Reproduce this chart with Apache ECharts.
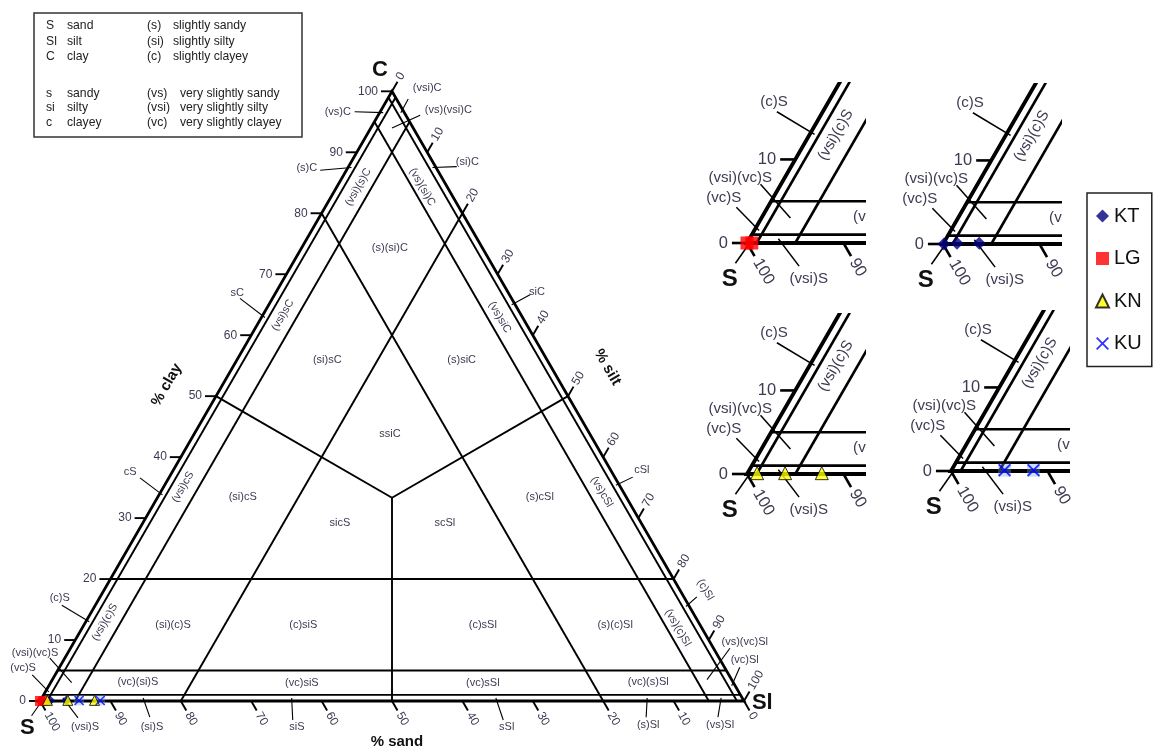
<!DOCTYPE html>
<html>
<head>
<meta charset="utf-8">
<title>Sand–silt–clay ternary classification</title>
<script src="https://cdn.jsdelivr.net/npm/echarts@6/dist/echarts.min.js"></script>
<style>
  html, body { margin: 0; padding: 0; background: #fff; }
  #chart { width: 1153px; height: 749px; }
</style>
</head>
<body>
<div id="chart"></div>
<script>
// ---------------- sample compositions (% sand, % silt, % clay) ----------------
const KT_sand = [99.9, 98.5, 96.2];
const KT_silt = [0.1, 1.4, 3.7];
const KT_clay = [0.0, 0.1, 0.1];

const LG_sand = [100.0, 99.5];
const LG_silt = [0.0, 0.5];
const LG_clay = [0.0, 0.0];

const KN_sand = [98.9, 96.0, 92.2];
const KN_silt = [1.0, 3.9, 7.7];
const KN_clay = [0.1, 0.1, 0.1];

const KU_sand = [94.4, 91.4];
const KU_silt = [5.5, 8.5];
const KU_clay = [0.1, 0.1];

const SAMPLE_NAMES = ['KT', 'LG', 'KN', 'KU'];

// axis tick values (%)
const TICK_VALUES = [0, 10, 20, 30, 40, 50, 60, 70, 80, 90, 100];

// class limits (%)
const LIMIT_TRACE = 1;
const LIMIT_VERY_SLIGHT = 5;
const LIMIT_SLIGHT = 20;
const LIMIT_MAJOR = 50;

// class names written inside their fields
const INNER_NAMES = [
  '(vsi)(s)C', '(vs)(si)C', '(s)(si)C', '(vsi)sC', '(si)sC', '(vs)siC', '(s)siC', 'ssiC',
  '(vsi)cS', '(si)cS', 'sicS', 'scSl', '(s)cSl', '(vs)cSl',
  '(vsi)(c)S', '(si)(c)S', '(c)siS', '(c)sSl', '(s)(c)Sl', '(vs)(c)Sl',
  '(vc)(si)S', '(vc)siS', '(vc)sSl', '(vc)(s)Sl'
];
// class names for the narrow bands, each with a pointer into its band
const OUTER_NAMES = [
  '(vsi)C', '(vs)(vsi)C', '(vs)C', '(s)C', '(si)C', 'sC', 'siC', 'cS', 'cSl',
  '(c)S', '(vsi)(vc)S', '(vc)S', '(vsi)S', '(si)S', 'siS', 'sSl', '(s)Sl', '(vs)Sl',
  '(c)Sl', '(vs)(vc)Sl', '(vc)Sl'
];
// composition each pointer ends in (sand, silt, clay)
const OUTER_TARGETS = [
  [0.5, 3, 96.5], [3, 3, 94], [3, 0.5, 96.5], [12, 0.5, 87.5], [0.5, 12, 87.5],
  [36.6, 0.5, 62.9], [0.5, 34.5, 65], [65.7, 0.5, 33.8], [0.5, 64.1, 35.4],
  [86.5, 0.5, 13], [94, 3, 3], [98, 0.5, 1.5], [96.5, 3, 0.5], [85.1, 14.4, 0.5],
  [64, 35.5, 0.5], [35, 64.5, 0.5], [13.5, 86, 0.5], [3, 96.5, 0.5],
  [0.5, 84, 15.5], [3.5, 93, 3.5], [0.5, 97, 2.5]
];

const KEY_LEFT = [['S', 'sand'], ['Sl', 'silt'], ['C', 'clay'], ['s', 'sandy'], ['si', 'silty'], ['c', 'clayey']];
const KEY_RIGHT = [['(s)', 'slightly sandy'], ['(si)', 'slightly silty'], ['(c)', 'slightly clayey'],
                   ['(vs)', 'very slightly sandy'], ['(vsi)', 'very slightly silty'], ['(vc)', 'very slightly clayey']];

// ---------------- layout (plot units: x = silt + clay/2, y = clay·√3/2) ----------------
// [x, y, rotation°]
const INNER_LAYOUT = [
  [45.2, 73.0, 60], [54.3, 73.0, -60], [49.7, 64.3, 0], [34.5, 54.8, 60], [40.8, 48.4, 0],
  [65.3, 54.5, -60], [59.9, 48.4, 0], [49.7, 37.9, 0],
  [20.3, 30.4, 60], [28.8, 29.0, 0], [42.6, 25.3, 0], [57.5, 25.3, 0], [71.0, 29.0, 0], [79.8, 29.7, -60],
  [9.2, 11.2, 60], [18.9, 10.8, 0], [37.4, 10.8, 0], [62.9, 10.8, 0], [81.7, 10.8, 0], [90.6, 10.4, -60],
  [13.9, 2.7, 0], [37.2, 2.6, 0], [62.9, 2.6, 0], [86.4, 2.7, 0]
];
// [text x, text y, pointer start x, pointer start y, rotation°]
const OUTER_LAYOUT = [
  [55.0, 87.1, 52.3, 85.5, 0], [58.0, 83.9, 54.0, 83.2, 0], [42.3, 83.7, 44.7, 83.7, 0],
  [37.9, 75.7, 39.8, 75.4, 0], [60.7, 76.6, 59.2, 75.9, 0], [28.0, 58.0, 28.4, 57.2, 0],
  [70.6, 58.1, 69.6, 57.7, 0], [12.8, 32.5, 14.2, 31.7, 0], [85.5, 32.8, 84.2, 31.8, 0],
  [2.8, 14.6, 3.1, 13.6, 0], [-0.7, 6.8, 1.4, 6.1, 0], [-2.4, 4.7, -1.1, 3.7, 0],
  [6.4, -3.7, 5.4, -2.4, 0], [15.9, -3.7, 15.6, -2.3, 0], [36.5, -3.7, 35.9, -2.7, 0],
  [66.3, -3.7, 65.8, -2.7, 0], [86.4, -3.4, 86.1, -2.3, 0], [96.6, -3.4, 96.3, -2.3, 0],
  [94.5, 15.8, 93.3, 14.8, -60], [100.1, 8.4, 98.0, 7.5, 0], [100.1, 5.8, 99.4, 4.8, 0]
];

const FONT = '"Liberation Sans", Arial, sans-serif';
const LINE_INK = '#000';
const TEXT_INK = '#3b3b52';
const SQ3 = Math.sqrt(3) / 2;

function toXY(sand, silt, clay) {
  const t = sand + silt + clay;
  return [(silt + clay / 2) * 100 / t, clay * SQ3 * 100 / t];
}

// class boundaries as segments between compositions
const C3 = 100 / 3;
const EDGE = [[100, 0, 0], [0, 100, 0], [0, 0, 100]];
const SEGMENTS = [];
[LIMIT_TRACE, LIMIT_VERY_SLIGHT, LIMIT_SLIGHT].forEach(v => {
  SEGMENTS.push([[100 - v, 0, v], [0, 100 - v, v]]);   // constant clay
  SEGMENTS.push([[100 - v, v, 0], [0, v, 100 - v]]);   // constant silt
  SEGMENTS.push([[v, 100 - v, 0], [v, 0, 100 - v]]);   // constant sand
});
SEGMENTS.push([[LIMIT_MAJOR, 0, LIMIT_MAJOR], [C3, C3, C3]]);
SEGMENTS.push([[0, LIMIT_MAJOR, LIMIT_MAJOR], [C3, C3, C3]]);
SEGMENTS.push([[LIMIT_MAJOR, LIMIT_MAJOR, 0], [C3, C3, C3]]);

// ---------------- panels ----------------
const MAIN_K = 7.04;
const MAIN_V = [40, 701];
const INSET_K = 9.65;
const INSET_W = 118, INSET_H = 161, INSET_PAD = 2;
const INSETS = [
  { v: [747, 243], sample: 'LG' },
  { v: [943, 244], sample: 'KT' },
  { v: [747, 474], sample: 'KN' },
  { v: [951, 471], sample: 'KU' }
];

const panels = [{
  grid: { left: MAIN_V[0], top: MAIN_V[1] - 100 * SQ3 * MAIN_K, width: 100 * MAIN_K, height: 100 * SQ3 * MAIN_K },
  x: [0, 100], y: [0, 100 * SQ3], f: 1, clip: false, vertexSize: 22,
  clayTicks: TICK_VALUES, siltTicks: TICK_VALUES, sandTicks: TICK_VALUES,
  outer: OUTER_NAMES, vertices: true, titles: true, samples: SAMPLE_NAMES, size: 10
}];
INSETS.forEach(ins => {
  panels.push({
    grid: { left: ins.v[0] - INSET_PAD * INSET_K, top: ins.v[1] - INSET_H,
            width: INSET_W + INSET_PAD * INSET_K, height: INSET_H + INSET_PAD * INSET_K },
    x: [-INSET_PAD, INSET_W / INSET_K], y: [-INSET_PAD, INSET_H / INSET_K],
    f: INSET_K / MAIN_K, clip: true, vertexSize: 24,
    clayTicks: [0, 10], siltTicks: [], sandTicks: [100, 90],
    outer: ['(c)S', '(vsi)(vc)S', '(vc)S', '(vsi)S'], vertices: 'S', titles: false,
    samples: [ins.sample], size: 13
  });
});

function textEl(p, text, o) {
  return {
    type: 'text', x: p[0], y: p[1], rotation: o.rot || 0, silent: true,
    style: {
      text: text, fill: o.color || TEXT_INK, fontSize: o.size, fontFamily: FONT,
      fontWeight: o.bold ? 'bold' : 'normal',
      textAlign: o.align || 'center', align: o.align || 'center',
      textVerticalAlign: 'middle', verticalAlign: 'middle'
    }
  };
}
function lineEl(a, b, w) {
  return { type: 'line', silent: true, shape: { x1: a[0], y1: a[1], x2: b[0], y2: b[1] },
           style: { stroke: LINE_INK, lineWidth: w } };
}

function boundaryRenderer(f) {
  return function (params, api) {
    const kids = SEGMENTS.map(s => lineEl(api.coord(toXY(...s[0])), api.coord(toXY(...s[1])), 1.9 * f));
    kids.push({ type: 'polygon', silent: true,
      shape: { points: EDGE.map(c => api.coord(toXY(...c))) },
      style: { fill: 'none', stroke: LINE_INK, lineWidth: 2.8 * f, lineJoin: 'miter' } });
    return { type: 'group', children: kids };
  };
}
function innerRenderer(f) {
  return function (params, api) {
    const kids = INNER_NAMES.map((n, i) => {
      const L = INNER_LAYOUT[i];
      return textEl(api.coord([L[0], L[1]]), n, { size: 11 * f, rot: L[2] * Math.PI / 180 });
    });
    return { type: 'group', children: kids };
  };
}
function outerRenderer(p) {
  const f = p.f;
  return function (params, api) {
    const kids = [];
    const tl = 11 * f, gap = 3 * f, tw = 1.9 * f;
    p.clayTicks.forEach(v => {
      const a = api.coord(toXY(100 - v, 0, v));
      kids.push(lineEl(a, [a[0] - tl, a[1]], tw));
      kids.push(textEl([a[0] - tl - gap, a[1]], String(v), { size: 12 * f, align: 'right' }));
    });
    p.siltTicks.forEach(v => {
      const a = api.coord(toXY(0, v, 100 - v));
      const d = [0.5, -SQ3];
      kids.push(lineEl(a, [a[0] + d[0] * tl, a[1] + d[1] * tl], tw));
      kids.push(textEl([a[0] + d[0] * (tl + gap), a[1] + d[1] * (tl + gap)], String(v),
        { size: 12 * f, align: 'left', rot: Math.PI / 3 }));
    });
    p.sandTicks.forEach(v => {
      const a = api.coord(toXY(v, 100 - v, 0));
      const d = [0.5, SQ3];
      kids.push(lineEl(a, [a[0] + d[0] * tl, a[1] + d[1] * tl], tw));
      kids.push(textEl([a[0] + d[0] * (tl + gap), a[1] + d[1] * (tl + gap)], String(v),
        { size: 12 * f, align: 'left', rot: -Math.PI / 3 }));
    });
    OUTER_NAMES.forEach((n, i) => {
      if (p.outer.indexOf(n) < 0) return;
      const L = OUTER_LAYOUT[i];
      kids.push(lineEl(api.coord([L[2], L[3]]), api.coord(toXY(...OUTER_TARGETS[i])), 1.1 * f));
      kids.push(textEl(api.coord([L[0], L[1]]), n, { size: 11 * f, rot: L[4] * Math.PI / 180 }));
    });
    if (p.vertices) {
      kids.push(lineEl(api.coord([-1.2, -2.1]), api.coord([0.2, -0.1]), 1.1 * f));
      kids.push(textEl(api.coord([-1.8, -3.8]), 'S', { size: p.vertexSize, bold: true, color: '#111' }));
      if (p.vertices === true) {
        kids.push(textEl(api.coord([48.3, 89.6]), 'C', { size: p.vertexSize, bold: true, color: '#111' }));
        kids.push(textEl(api.coord([102.6, -0.3]), 'Sl', { size: p.vertexSize, bold: true, color: '#111' }));
      }
    }
    if (p.titles) {
      kids.push(textEl(api.coord([18.0, 44.9]), '% clay', { size: 15, bold: true, color: '#111', rot: Math.PI / 3 }));
      kids.push(textEl(api.coord([80.6, 47.4]), '% silt', { size: 15, bold: true, color: '#111', rot: -Math.PI / 3 }));
      kids.push(textEl(api.coord([50.7, -5.8]), '% sand', { size: 15, bold: true, color: '#111' }));
    }
    return { type: 'group', children: kids };
  };
}

const SAMPLE_DATA = {
  KT: KT_sand.map((s, i) => toXY(s, KT_silt[i], KT_clay[i])),
  LG: LG_sand.map((s, i) => toXY(s, LG_silt[i], LG_clay[i])),
  KN: KN_sand.map((s, i) => toXY(s, KN_silt[i], KN_clay[i])),
  KU: KU_sand.map((s, i) => toXY(s, KU_silt[i], KU_clay[i]))
};
const CROSS = 'path://M1,0 L5,4 L9,0 L10,1 L6,5 L10,9 L9,10 L5,6 L1,10 L0,9 L4,5 L0,1 Z';
const SAMPLE_STYLE = {
  KT: { symbol: 'diamond', itemStyle: { color: '#000080' } },
  LG: { symbol: 'rect', itemStyle: { color: '#ff0000' } },
  KN: { symbol: 'triangle', itemStyle: { color: '#ffff00', borderColor: '#000', borderWidth: 1 } },
  KU: { symbol: CROSS, itemStyle: { color: '#0000ff' } }
};

const grid = [], xAxis = [], yAxis = [], series = [];
panels.forEach((p, g) => {
  grid.push(Object.assign({ containLabel: false, show: false }, p.grid));
  xAxis.push({ type: 'value', gridIndex: g, min: p.x[0], max: p.x[1], show: false });
  yAxis.push({ type: 'value', gridIndex: g, min: p.y[0], max: p.y[1], show: false });
  const base = { type: 'custom', xAxisIndex: g, yAxisIndex: g, data: [[0, 0]], silent: true, animation: false };
  series.push(Object.assign({}, base, { clip: p.clip, z: 2, renderItem: boundaryRenderer(p.f) }));
  series.push(Object.assign({}, base, { clip: p.clip, z: 3, renderItem: innerRenderer(p.f) }));
  series.push(Object.assign({}, base, { clip: false, z: 3, renderItem: outerRenderer(p) }));
  p.samples.forEach(name => {
    if (name === 'KU') {
      series.push({ type: 'scatter', name: 'KU-backing', xAxisIndex: g, yAxisIndex: g, z: 9,
        symbol: 'rect', symbolSize: p.size, silent: true, itemStyle: { color: 'rgba(110,160,255,0.45)' },
        data: SAMPLE_DATA.KU });
    }
    series.push(Object.assign({ type: 'scatter', name: name, xAxisIndex: g, yAxisIndex: g, z: 10,
      symbolSize: p.size, data: SAMPLE_DATA[name] }, SAMPLE_STYLE[name]));
  });
});

// abbreviation key
const KEY_FONT = 12.2;
const keyChildren = [{ type: 'rect', shape: { x: 34, y: 13, width: 268, height: 124 },
  style: { fill: '#fff', stroke: '#333', lineWidth: 1.5 } }];
const KEY_ROWS = [26, 42, 57, 94, 108, 123];
function keyText(x, y, t) {
  return { type: 'text', x: x, y: y, style: { text: t, fontSize: KEY_FONT, fontFamily: FONT, fill: '#222', verticalAlign: 'middle' } };
}
KEY_LEFT.forEach((r, i) => {
  keyChildren.push(keyText(46, KEY_ROWS[i], r[0]));
  keyChildren.push(keyText(67, KEY_ROWS[i], r[1]));
});
KEY_RIGHT.forEach((r, i) => {
  keyChildren.push(keyText(147, KEY_ROWS[i], r[0]));
  keyChildren.push(keyText(i < 3 ? 173 : 180, KEY_ROWS[i], r[1]));
});

const chart = echarts.init(document.getElementById('chart'));
chart.setOption({
  animation: false,
  backgroundColor: '#fff',
  grid, xAxis, yAxis, series,
  legend: {
    data: SAMPLE_NAMES, orient: 'vertical', left: 1087, top: 193,
    padding: [13, 10, 13, 8], itemGap: 22.5, itemWidth: 13, itemHeight: 13,
    borderColor: '#222', borderWidth: 1.5, selectedMode: false,
    textStyle: { fontSize: 20, fontFamily: FONT, color: '#111' }
  },
  graphic: [{ type: 'group', children: keyChildren }]
});
</script>
</body>
</html>
